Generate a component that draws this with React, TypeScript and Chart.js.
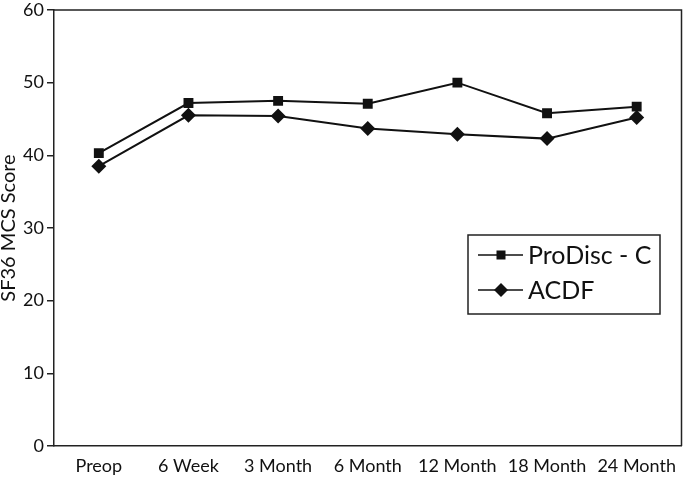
import React, { useEffect, useRef } from "react";
import { Chart, registerables } from "chart.js";

Chart.register(...registerables);

const categories = ["Preop", "6 Week", "3 Month", "6 Month", "12 Month", "18 Month", "24 Month"];
const prodiscValues = [40.3, 47.2, 47.5, 47.1, 50.0, 45.8, 46.7];
const acdfValues = [38.5, 45.5, 45.4, 43.7, 42.9, 42.3, 45.2];
const seriesLabels = ["ProDisc - C", "ACDF"];
const yTitle = "SF36 MCS Score";

const FONT = "Lato, 'Open Sans', sans-serif";
const INK = "#111";

const frameAndLegend = {
  id: "frameAndLegend",
  afterDatasetsDraw(chart: any) {
    const { ctx, chartArea } = chart;
    ctx.save();
    ctx.strokeStyle = "#222";
    ctx.lineWidth = 1.5;
    ctx.beginPath();
    ctx.moveTo(chartArea.left, chartArea.top);
    ctx.lineTo(chartArea.right, chartArea.top);
    ctx.lineTo(chartArea.right, chartArea.bottom);
    ctx.stroke();

    const bx = 468, by = 235, bw = 192, bh = 79;
    ctx.fillStyle = "#fff";
    ctx.fillRect(bx, by, bw, bh);
    ctx.strokeStyle = "#222";
    ctx.lineWidth = 1.5;
    ctx.strokeRect(bx, by, bw, bh);

    const rows = [255, 290];
    chart.data.datasets.forEach((ds: any, i: number) => {
      const y = rows[i];
      ctx.strokeStyle = INK;
      ctx.lineWidth = 1.5;
      ctx.beginPath();
      ctx.moveTo(478, y);
      ctx.lineTo(523, y);
      ctx.stroke();
      ctx.fillStyle = INK;
      const cx = 501;
      if (ds.pointStyle === "rect") {
        ctx.fillRect(cx - 4.5, y - 4.5, 9, 9);
      } else {
        ctx.beginPath();
        ctx.moveTo(cx, y - 7);
        ctx.lineTo(cx + 7, y);
        ctx.lineTo(cx, y + 7);
        ctx.lineTo(cx - 7, y);
        ctx.closePath();
        ctx.fill();
      }
      ctx.fillStyle = INK;
      ctx.font = `25px ${FONT}`;
      ctx.textBaseline = "middle";
      ctx.textAlign = "left";
      ctx.fillText(ds.label, 528, y + 1);
    });
    ctx.restore();
  },
};

export default function App() {
  const ref = useRef<HTMLCanvasElement>(null);

  useEffect(() => {
    document.body.style.margin = "0";
    const chart = new Chart(ref.current as HTMLCanvasElement, {
      type: "line",
      data: {
        labels: categories,
        datasets: [
          {
            label: seriesLabels[0],
            data: prodiscValues,
            borderColor: INK,
            backgroundColor: INK,
            borderWidth: 2,
            pointStyle: "rect",
            pointRadius: 7,
            pointBorderWidth: 0,
            tension: 0,
          },
          {
            label: seriesLabels[1],
            data: acdfValues,
            borderColor: INK,
            backgroundColor: INK,
            borderWidth: 2,
            pointStyle: "rectRot",
            pointRadius: 7.5,
            pointBorderWidth: 0,
            tension: 0,
          },
        ],
      },
      options: {
        responsive: false,
        animation: false,
        layout: { padding: { top: 10, right: 1, left: 0, bottom: 0 } },
        plugins: {
          legend: { display: false },
          tooltip: { enabled: false },
        },
        scales: {
          x: {
            offset: true,
            grid: { display: false, drawTicks: false },
            border: { display: true, color: "#222", width: 1.5 },
            ticks: {
              color: INK,
              font: { family: FONT, size: 18 },
              padding: 9,
              maxRotation: 0,
              autoSkip: false,
            },
            afterFit: (scale: any) => {
              scale.height = 34;
              scale.paddingLeft = 0;
              scale.paddingRight = 0;
            },
          },
          y: {
            min: 0,
            max: 60,
            ticks: {
              stepSize: 10,
              color: INK,
              font: { family: FONT, size: 18 },
              padding: 3,
            },
            grid: {
              display: true,
              drawOnChartArea: false,
              drawTicks: true,
              tickLength: 7,
              color: "#222",
              lineWidth: 1.5,
            },
            border: { display: true, color: "#222", width: 1.5 },
            title: {
              display: true,
              text: yTitle,
              color: INK,
              font: { family: FONT, size: 20, lineHeight: 0.85 },
              padding: { top: 0, bottom: 0 },
            },
            afterFit: (scale: any) => {
              scale.width = 54;
              scale.paddingTop = 0;
              scale.paddingBottom = 0;
            },
          },
        },
      },
      plugins: [frameAndLegend],
    });
    return () => chart.destroy();
  }, []);

  return (
    <div style={{ position: "absolute", left: 0, top: 0, width: 689, height: 480, background: "#fff" }}>
      <canvas ref={ref} width={689} height={480} />
    </div>
  );
}
